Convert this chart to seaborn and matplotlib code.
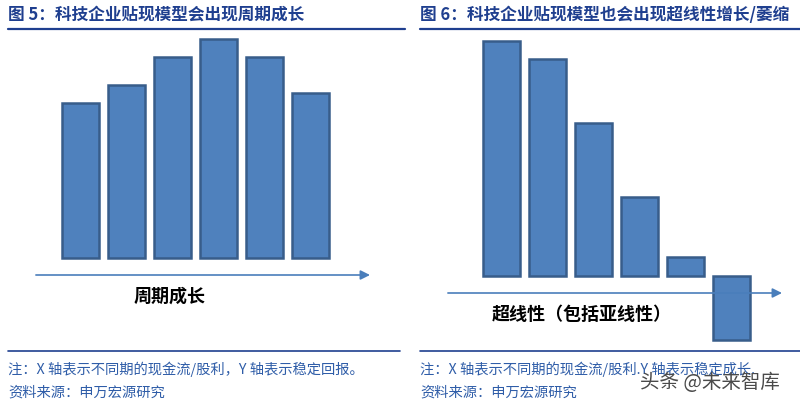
import numpy as np
import pandas as pd
import matplotlib
matplotlib.use('Agg')
import matplotlib.pyplot as plt
from matplotlib.lines import Line2D
import seaborn as sns

# Data (relative bar heights)
periods = ['t1', 't2', 't3', 't4', 't5', 't6']
cyclical = [155, 173, 201, 219, 201, 165]
superlinear = [235, 217, 153, 79, 19, -64]

title_left = '图 5：科技企业贴现模型会出现周期成长'
title_right = '图 6：科技企业贴现模型也会出现超线性增长/萎缩'
label_left = '周期成长'
label_right = '超线性（包括亚线性）'
note_left = '注：X 轴表示不同期的现金流/股利，Y 轴表示稳定回报。'
note_right = '注：X 轴表示不同期的现金流/股利.Y 轴表示稳定成长.'
source = '资料来源：申万宏源研究'
watermark = '头条 @未来智库'

sns.set_style('white')
plt.rcParams['font.family'] = ['Noto Sans CJK SC', 'DejaVu Sans']

W, H = 800, 406
fig = plt.figure(figsize=(W / 100, H / 100), dpi=100)

bar_color = '#4F81BD'
edge_color = '#385D8A'
title_color = '#1F3F8F'
note_color = '#2F5DA8'
arrow_color = '#4A7EBB'


def fx(x):
    return x / W


def fy(y):
    return 1 - y / H


def panel(vals, first_center, x_left, x_right, baseline, top, bottom):
    # axes in pixel space, data units = pixels from baseline, 46px per bar slot
    ax = fig.add_axes([fx(x_left), fy(bottom), (x_right - x_left) / W, (bottom - top) / H])
    df = pd.DataFrame({'period': periods, 'value': vals})
    sns.barplot(data=df, x='period', y='value', ax=ax, color=bar_color,
                saturation=1, edgecolor=edge_color, linewidth=1.8, width=0.8)
    step = 46.0
    ax.set_xlim((x_left - first_center) / step, (x_right - first_center) / step)
    ax.set_ylim(baseline - bottom, baseline - top)
    ax.annotate('', xy=(ax.get_xlim()[1], -17), xytext=(ax.get_xlim()[0] + 0.02, -17),
                arrowprops=dict(arrowstyle='-|>', color=arrow_color, lw=1.2,
                                mutation_scale=14, shrinkA=0, shrinkB=0))
    ax.axis('off')
    return ax


panel(cyclical, 80.5, 35, 370, 259, 32, 290)
panel(superlinear, 501.5, 447, 782, 277, 32, 345)

# titles and rules
fig.text(fx(8), fy(15), title_left, fontsize=12, fontweight='bold', color=title_color, va='center')
fig.text(fx(420), fy(15), title_right, fontsize=12, fontweight='bold', color=title_color, va='center')
fig.add_artist(Line2D([fx(8), fx(405)], [fy(30), fy(30)], color=title_color, lw=1.6))
fig.add_artist(Line2D([fx(420), fx(800)], [fy(30), fy(30)], color=title_color, lw=1.6))
fig.add_artist(Line2D([fx(8), fx(400)], [fy(352), fy(352)], color=title_color, lw=1.2))
fig.add_artist(Line2D([fx(420), fx(800)], [fy(352), fy(352)], color=title_color, lw=1.2))

# axis labels
fig.text(fx(170), fy(296), label_left, fontsize=13, fontweight='bold', color='black', ha='center', va='center')
fig.text(fx(582), fy(315), label_right, fontsize=13, fontweight='bold', color='black', ha='center', va='center')

# notes
fig.text(fx(8), fy(369), note_left, fontsize=10.3, color=note_color, va='center')
fig.text(fx(8), fy(393), source, fontsize=10.3, color=note_color, va='center')
fig.text(fx(420), fy(369), note_right, fontsize=10.3, color=note_color, va='center')
fig.text(fx(420), fy(393), source, fontsize=10.3, color=note_color, va='center')
fig.text(fx(640), fy(383), watermark, fontsize=14, color='#4a4a4a', va='center')

fig.savefig('out.png', dpi=100)
